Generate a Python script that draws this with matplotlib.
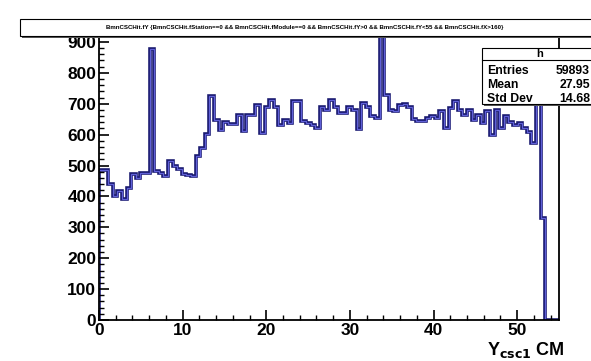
import numpy as np
import matplotlib
matplotlib.use("Agg")
import matplotlib.pyplot as plt
from matplotlib.patches import Rectangle

plt.rcParams['font.family'] = ['Liberation Sans', 'DejaVu Sans']

# histogram of BmnCSCHit.fY, 100 bins from 0 to 55
x_lo, x_hi, n_bins = 0, 55, 100
counts = [
    487, 487, 440, 400, 417, 392, 428, 471, 460, 476,
    476, 877, 482, 476, 465, 514, 498, 490, 471, 468,
    465, 530, 557, 602, 724, 648, 616, 641, 634, 634,
    662, 613, 662, 662, 697, 605, 691, 713, 691, 632,
    648, 638, 710, 710, 643, 638, 630, 622, 691, 681,
    713, 691, 670, 670, 691, 681, 619, 702, 691, 659,
    654, 935, 729, 681, 675, 697, 700, 690, 650, 645,
    645, 654, 660, 654, 675, 622, 686, 708, 681, 665,
    681, 648, 665, 638, 675, 600, 681, 622, 659, 641,
    632, 638, 622, 610, 573, 710, 330, 0, 0, 0,
]
title = ("BmnCSCHit.fY {BmnCSCHit.fStation==0 && BmnCSCHit.fModule==0 "
         "&& BmnCSCHit.fY>0 && BmnCSCHit.fY<55 && BmnCSCHit.fX>160}")
stat_names = ["Entries", "Mean", "Std Dev"]
stat_values = ["59893", "27.95", "14.68"]

W, H = 591, 361
fig = plt.figure(figsize=(W / 100, H / 100), dpi=100)
ax = fig.add_axes([99 / W, 1 - 320 / H, 460 / W, 293.5 / H])

edges = np.linspace(x_lo, x_hi, n_bins + 1)
# dark outline with lighter blue core, like the blurred ROOT line
ax.stairs(counts, edges, color='#1a1a70', linewidth=2.6, baseline=0)
ax.stairs(counts, edges, color='#6060d8', linewidth=0.9, baseline=0)

ax.set_xlim(x_lo, x_hi)
ax.set_ylim(0, 950)
ax.set_xticks(np.arange(0, 51, 10))
ax.set_xticks(np.arange(0, 55, 2), minor=True)
ax.set_yticks(np.arange(0, 901, 100))
ax.set_yticks(np.arange(0, 950, 20), minor=True)
ax.tick_params(direction='in', which='major', length=7, width=1.2, pad=2)
ax.tick_params(direction='in', which='minor', length=3.5, width=1)
ax.tick_params(axis='both', labelsize=12.5)
for lab in ax.get_xticklabels() + ax.get_yticklabels():
    lab.set_fontweight('bold')
for side in ['left', 'bottom', 'right', 'top']:
    ax.spines[side].set_linewidth(1.3)

fig.text(565 / W, 1 - 355 / H, r"Y$_{\mathbf{csc1}}$ CM", ha='right', va='baseline',
         fontsize=13, fontweight='bold')

# title box with shadow
def fig_rect(x0, y0, x1, y1, **kw):
    r = Rectangle((x0 / W, 1 - y1 / H), (x1 - x0) / W, (y1 - y0) / H,
                  transform=fig.transFigure, **kw)
    fig.add_artist(r)
    return r

fig_rect(22, 21, 600, 38, facecolor='#555555', edgecolor='none', zorder=5)
fig_rect(20, 19, 598, 36, facecolor='white', edgecolor='black', linewidth=0.8, zorder=6)
fig.text(305 / W, 1 - 27.5 / H, title, ha='center', va='center', fontsize=4.4,
         fontweight='bold', zorder=7)

# stats box
fig_rect(484, 50, 600, 106, facecolor='#555555', edgecolor='none', zorder=5)
fig_rect(482, 48, 598, 104, facecolor='white', edgecolor='black', linewidth=0.8, zorder=6)
fig.add_artist(plt.Line2D([482 / W, 598 / W], [1 - 60 / H, 1 - 60 / H],
                          transform=fig.transFigure, color='black', linewidth=0.8, zorder=7))
fig.text(540 / W, 1 - 54 / H, "h", ha='center', va='center', fontsize=8,
         fontweight='bold', zorder=7)
for i, (name, val) in enumerate(zip(stat_names, stat_values)):
    yy = 1 - (71 + 14 * i) / H
    fig.text(487 / W, yy, name, ha='left', va='center', fontsize=8.8,
             fontweight='bold', zorder=7)
    fig.text(590 / W, yy, val, ha='right', va='center', fontsize=8.8,
             fontweight='bold', zorder=7)

fig.savefig("out.png", dpi=100)
